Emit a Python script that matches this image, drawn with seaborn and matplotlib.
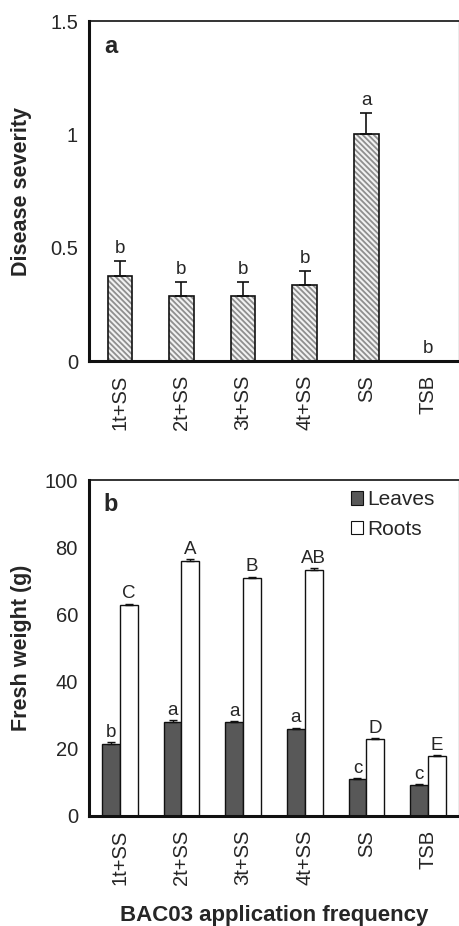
import numpy as np
import pandas as pd
import matplotlib
matplotlib.use("Agg")
import matplotlib.pyplot as plt
from matplotlib.patches import Patch
import seaborn as sns

# data
treatments = ["1t+SS", "2t+SS", "3t+SS", "4t+SS", "SS", "TSB"]

severity = [0.375, 0.287, 0.287, 0.334, 1.0, 0.0]
severity_err = [0.065, 0.063, 0.063, 0.064, 0.094, 0.0]
severity_letters = ["b", "b", "b", "b", "a", "b"]

leaves = [21.5, 28.1, 27.9, 25.9, 11.0, 9.2]
leaves_err = [0.5, 0.4, 0.4, 0.4, 0.3, 0.3]
leaves_letters = ["b", "a", "a", "a", "c", "c"]

roots = [62.7, 75.9, 70.7, 73.2, 23.0, 17.9]
roots_err = [0.5, 0.5, 0.5, 0.5, 0.2, 0.2]
roots_letters = ["C", "A", "B", "AB", "D", "E"]

a_ticks = [0, 0.5, 1, 1.5]
a_ticklabels = ["0", "0.5", "1", "1.5"]
b_ticks = [0, 20, 40, 60, 80, 100]


def style_axes(ax):
    for side in ["left", "bottom"]:
        ax.spines[side].set_linewidth(2.2)
        ax.spines[side].set_color("#111111")
    ax.spines["top"].set_linewidth(1.2)
    ax.spines["top"].set_color("#111111")
    ax.spines["right"].set_linewidth(1.0)
    ax.spines["right"].set_color("#999999")
    n = len(treatments)
    ax.set_xlim(-0.5, n - 0.5)
    ax.set_xticks(np.arange(-0.5, n, 1.0))
    ax.set_xticklabels([])
    ax.set_xticks(np.arange(n), minor=True)
    ax.set_xticklabels(treatments, minor=True, rotation=90, fontsize=14.5)
    ax.tick_params(axis="x", which="major", direction="out", length=6, width=1.8)
    ax.tick_params(axis="x", which="minor", length=0, pad=10)
    ax.tick_params(axis="y", direction="out", length=5, width=1.5, labelsize=14.5, pad=3)
    ax.set_xlabel("")


def main():
    sns.set_style("white")
    plt.rcParams["font.family"] = ["Liberation Sans", "DejaVu Sans"]
    plt.rcParams["hatch.linewidth"] = 1.3

    fig = plt.figure(figsize=(4.6, 9.26), dpi=100)
    ax1 = fig.add_axes([0.1935, 0.610, 0.804, 0.3673])
    ax2 = fig.add_axes([0.1935, 0.1188, 0.804, 0.3628])

    # panel a
    df_a = pd.DataFrame({"treatment": treatments, "severity": severity})
    sns.barplot(data=df_a, x="treatment", y="severity", ax=ax1, width=0.4,
                color="#f2f2f2", edgecolor="#8f8f8f", linewidth=0, hatch="\\" * 6,
                saturation=1)
    sns.barplot(data=df_a, x="treatment", y="severity", ax=ax1, width=0.4,
                fill=False, edgecolor="#111111", linewidth=1.2)
    x = np.arange(len(treatments))
    ax1.errorbar(x, severity, yerr=[np.zeros(len(x)), severity_err], fmt="none",
                 ecolor="#111111", elinewidth=1.2, capsize=4, capthick=1.2)
    for xi, v, e, lab in zip(x, severity, severity_err, severity_letters):
        ax1.annotate(lab, (xi, v + e), xytext=(0, 3), textcoords="offset points",
                     ha="center", va="bottom", fontsize=13.5)
    ax1.set_ylim(0, 1.5)
    ax1.set_yticks(a_ticks)
    ax1.set_yticklabels(a_ticklabels)
    style_axes(ax1)
    ax1.set_ylabel("Disease severity", fontsize=15.5, fontweight="bold")
    ax1.yaxis.set_label_coords(-0.155, 0.5)
    ax1.text(0.04, 0.96, "a", transform=ax1.transAxes, fontsize=17,
             fontweight="bold", va="top", ha="left")

    # panel b
    df_b = pd.DataFrame({
        "treatment": treatments * 2,
        "part": ["Leaves"] * len(treatments) + ["Roots"] * len(treatments),
        "weight": leaves + roots,
    })
    sns.barplot(data=df_b, x="treatment", y="weight", hue="part", ax=ax2,
                width=0.58, palette={"Leaves": "#585858", "Roots": "white"},
                edgecolor="#111111", linewidth=1.0, legend=False, saturation=1)
    off = 0.58 / 4
    ax2.errorbar(x - off, leaves, yerr=[np.zeros(len(x)), leaves_err], fmt="none",
                 ecolor="#111111", elinewidth=1.0, capsize=3, capthick=1.0)
    ax2.errorbar(x + off, roots, yerr=[np.zeros(len(x)), roots_err], fmt="none",
                 ecolor="#111111", elinewidth=1.0, capsize=3, capthick=1.0)
    for xi, v, e, lab in zip(x - off, leaves, leaves_err, leaves_letters):
        ax2.annotate(lab, (xi, v + e), xytext=(0, 1), textcoords="offset points",
                     ha="center", va="bottom", fontsize=13.5)
    for xi, v, e, lab in zip(x + off, roots, roots_err, roots_letters):
        ax2.annotate(lab, (xi, v + e), xytext=(0, 1), textcoords="offset points",
                     ha="center", va="bottom", fontsize=13.5)
    ax2.set_ylim(0, 100)
    ax2.set_yticks(b_ticks)
    style_axes(ax2)
    ax2.set_ylabel("Fresh weight (g)", fontsize=15.5, fontweight="bold")
    ax2.yaxis.set_label_coords(-0.155, 0.5)
    ax2.set_xlabel("BAC03 application frequency", fontsize=16, fontweight="bold",
                   labelpad=14)
    ax2.text(0.04, 0.96, "b", transform=ax2.transAxes, fontsize=17,
             fontweight="bold", va="top", ha="left")
    handles = [Patch(facecolor="#585858", edgecolor="#111111", linewidth=0.8),
               Patch(facecolor="white", edgecolor="#111111", linewidth=0.8)]
    ax2.legend(handles, ["Leaves", "Roots"], loc="upper right", frameon=False,
               fontsize=15, handlelength=0.6, handleheight=0.6, handletextpad=0.2,
               labelspacing=0.5, bbox_to_anchor=(0.985, 1.025))

    fig.savefig("out.png", dpi=100)


if __name__ == "__main__":
    main()
